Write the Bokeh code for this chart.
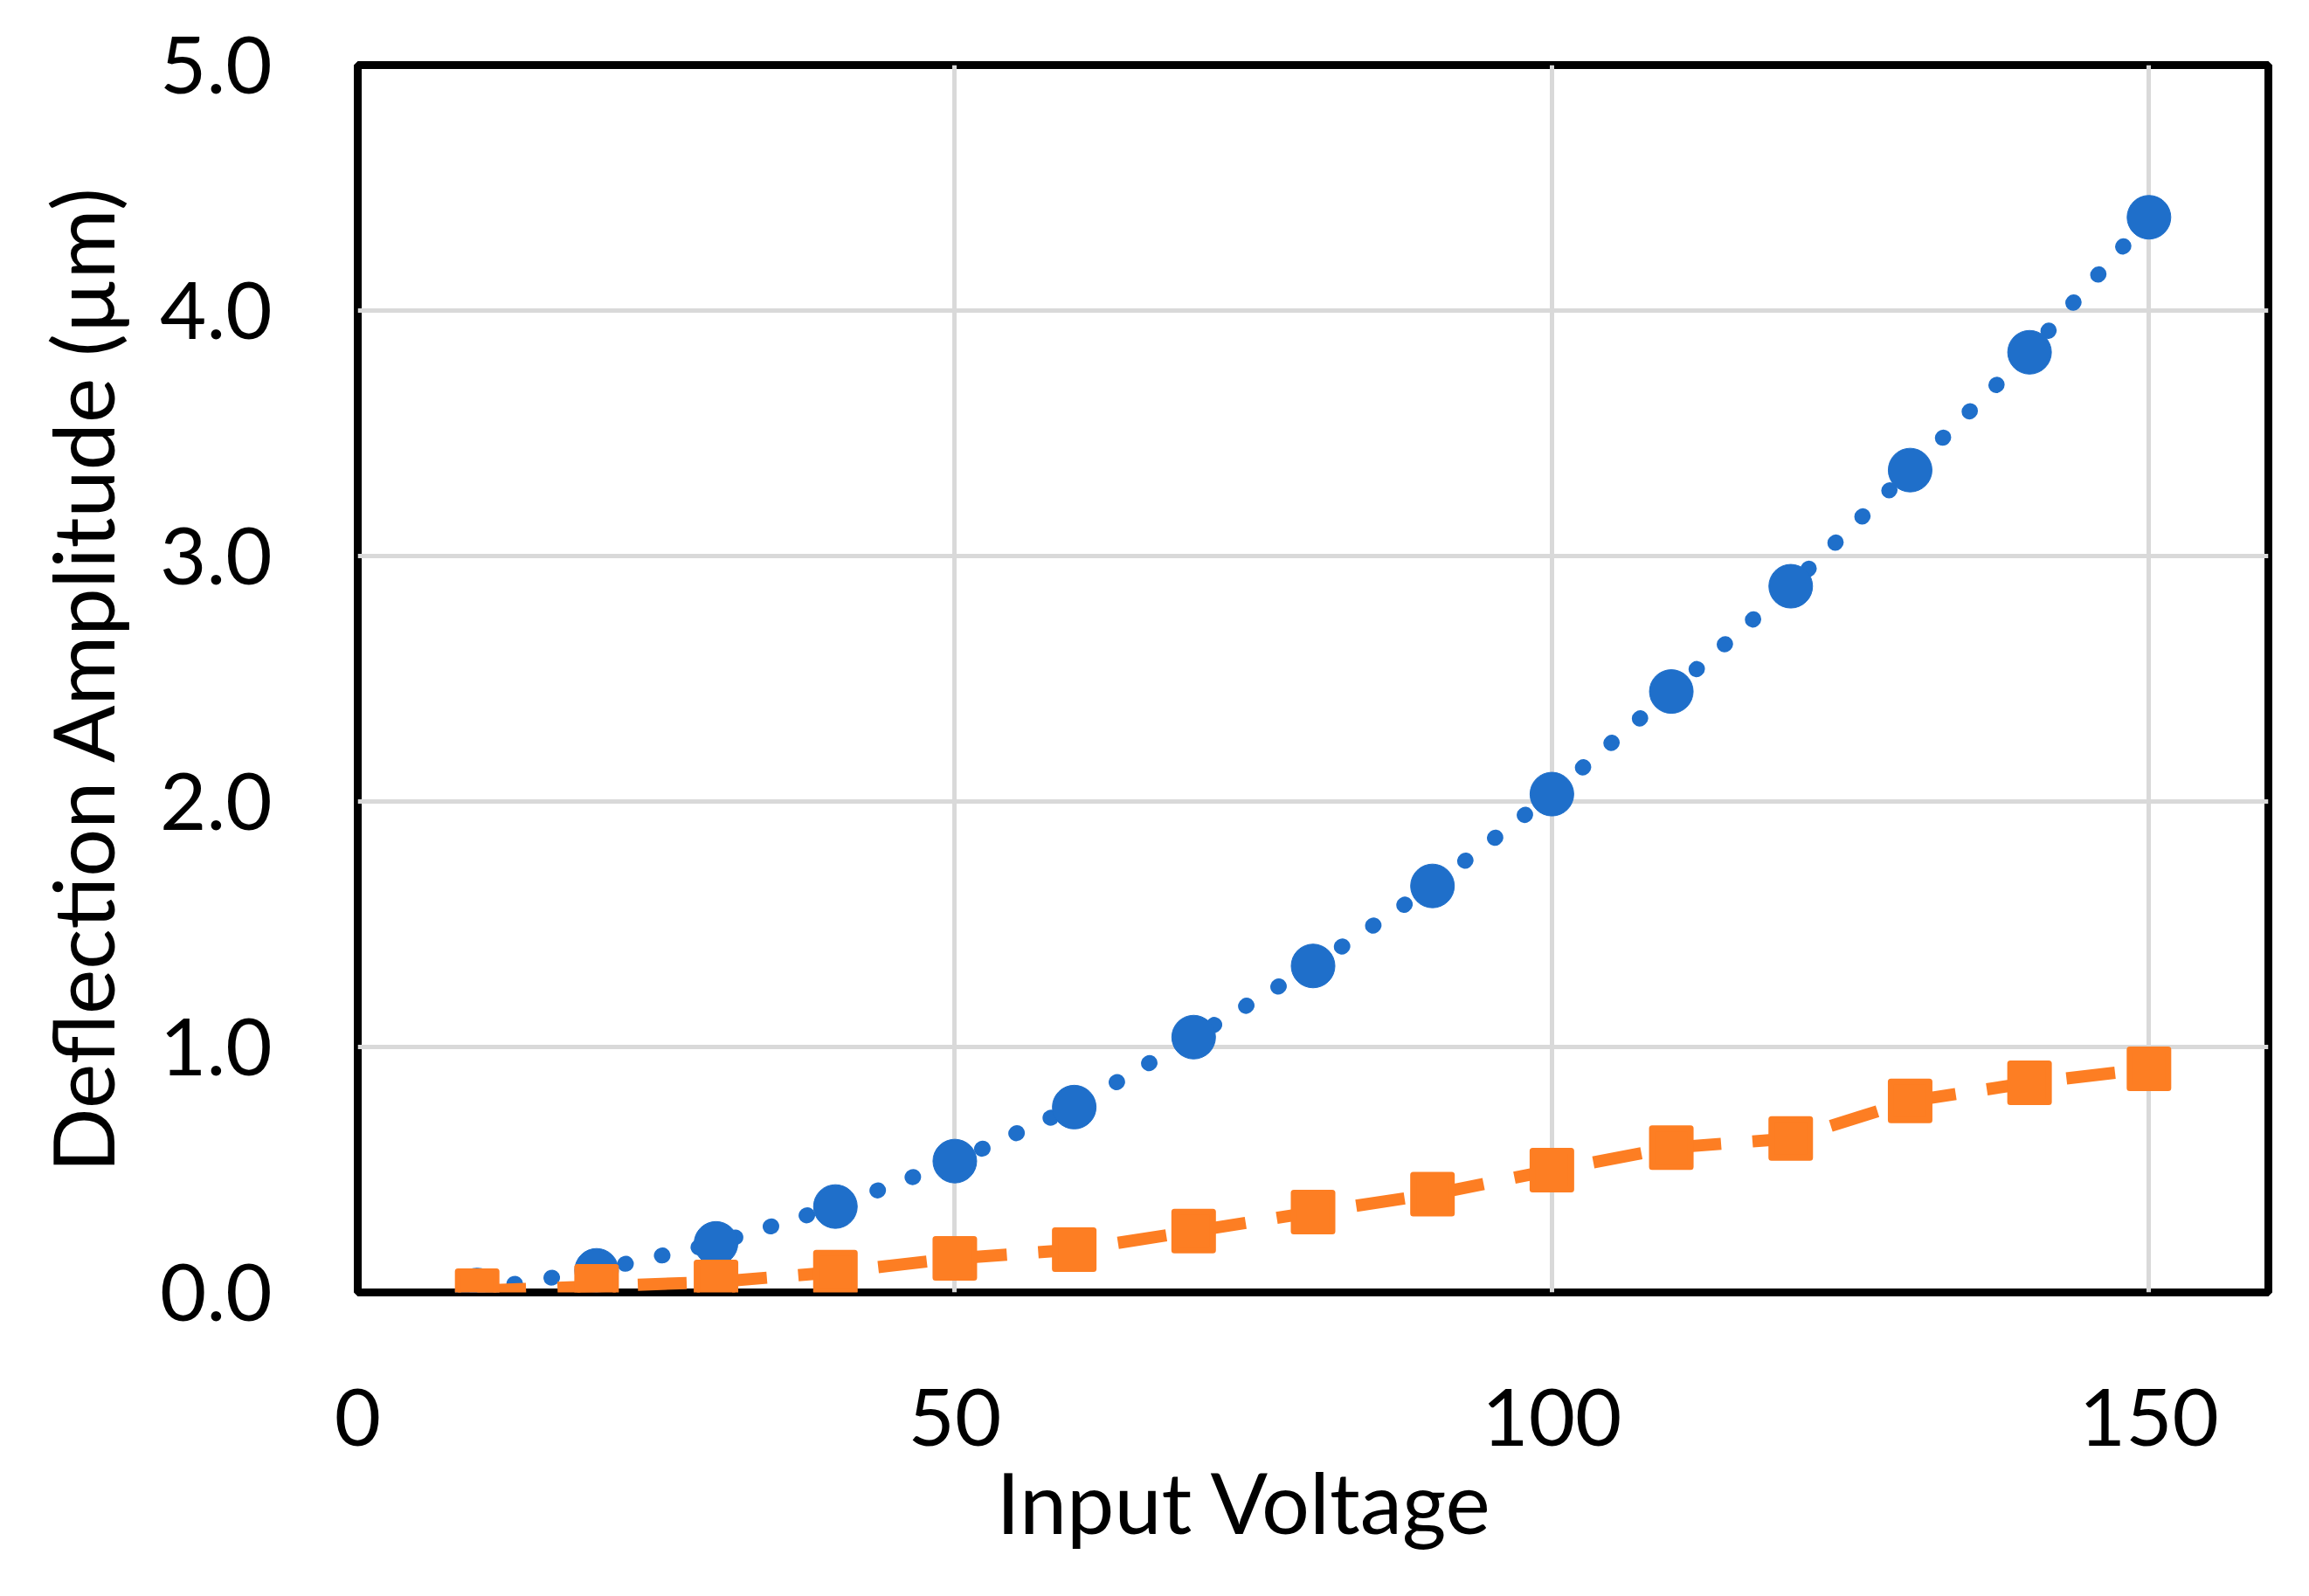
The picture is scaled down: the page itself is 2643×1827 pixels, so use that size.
from bokeh.plotting import figure
from bokeh.models import FixedTicker, NumeralTickFormatter, Range1d, Title
from bokeh.embed import file_html
from bokeh.resources import INLINE

voltage = [10, 20, 30, 40, 50, 60, 70, 80, 90, 100, 110, 120, 130, 140, 150]
blue_amp = [0.01, 0.09, 0.20, 0.35, 0.535, 0.755, 1.04, 1.33, 1.656, 2.03, 2.448, 2.877, 3.35, 3.83, 4.38]
orange_amp = [0.007, 0.025, 0.043, 0.083, 0.139, 0.174, 0.25, 0.327, 0.40, 0.498, 0.59, 0.627, 0.78, 0.854, 0.911]
x_ticks = [0, 50, 100, 150]
y_ticks = [0, 1, 2, 3, 4, 5]
x_title = "Input Voltage"
y_title = "Deflection Amplitude (µm)"

FONT = "Lato"
BLUE = "#1f6fca"
ORANGE = "#fd7e23"

p = figure(width=2627, height=1811, output_backend="svg", toolbar_location=None,
           x_range=Range1d(0, 160), y_range=Range1d(0, 5),
           min_border_left=409, min_border_right=31, min_border_top=74, min_border_bottom=332)
p.background_fill_color = "white"
p.border_fill_color = "white"
p.outline_line_color = "black"
p.outline_line_width = 9

p.xaxis.ticker = FixedTicker(ticks=x_ticks)
p.yaxis.ticker = FixedTicker(ticks=y_ticks)
p.yaxis.formatter = NumeralTickFormatter(format="0.0")
for ax in (p.xaxis, p.yaxis):
    ax.axis_line_color = None
    ax.major_tick_line_color = None
    ax.minor_tick_line_color = None
    ax.major_label_text_font = FONT
    ax.major_label_text_font_size = "92px"
    ax.major_label_text_color = "black"
p.xaxis.major_label_standoff = 104
p.yaxis.major_label_standoff = 92

p.yaxis.axis_label = y_title
p.yaxis.axis_label_text_font = FONT
p.yaxis.axis_label_text_font_size = "97px"
p.yaxis.axis_label_text_font_style = "normal"
p.yaxis.axis_label_text_color = "black"
p.yaxis.axis_label_standoff = 28

p.xgrid.grid_line_color = "#d9d9d9"
p.ygrid.grid_line_color = "#d9d9d9"
p.xgrid.grid_line_width = 5
p.ygrid.grid_line_width = 5

p.line(voltage, blue_amp, line_color=BLUE, line_width=18, line_dash="1 42", line_cap="round")
p.scatter(voltage, blue_amp, marker="circle", size=50, fill_color=BLUE, line_color=BLUE)
p.line(voltage, orange_amp, line_color=ORANGE, line_width=14, line_dash="56 36")
p.scatter(voltage, orange_amp, marker="square", size=44, fill_color=ORANGE, line_color=ORANGE,
          line_width=7, line_join="round")

p.add_layout(Title(text=x_title, text_font=FONT, text_font_size="97px", text_font_style="normal",
                   text_color="black", align="left", offset=731, standoff=0), "below")

open("out.html", "w").write(file_html(p, INLINE))
